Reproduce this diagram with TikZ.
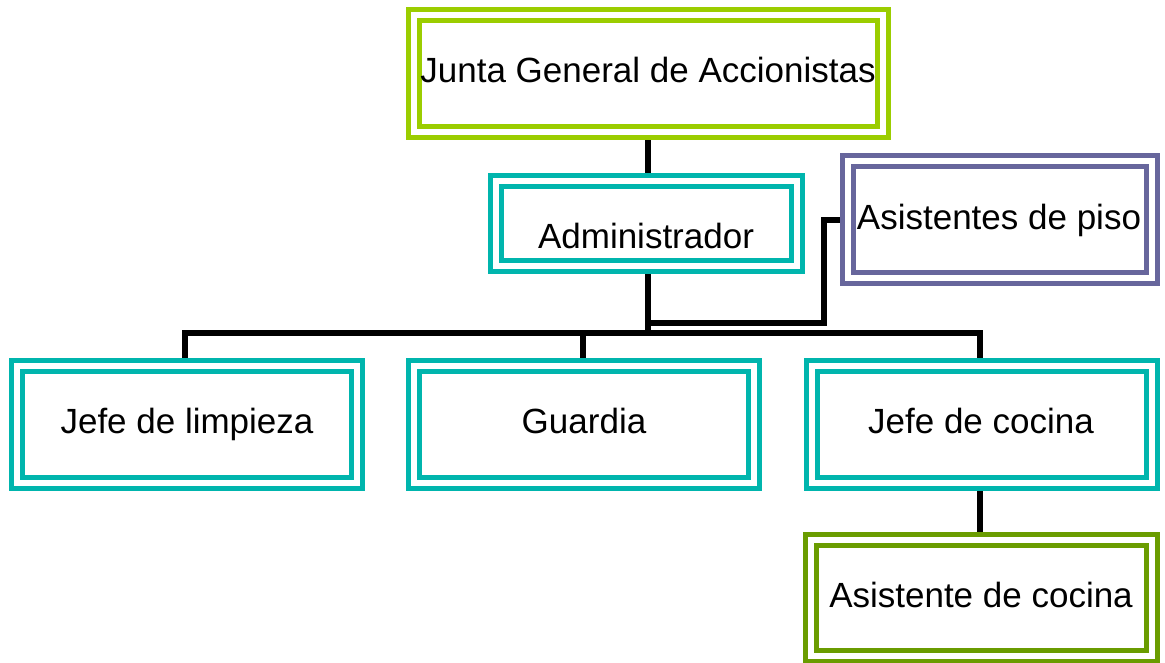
\documentclass[tikz,border=0pt]{standalone}
\usepackage{fontspec}
\setmainfont{Liberation Sans}
\usetikzlibrary{backgrounds}
\definecolor{lime}{RGB}{155,205,0}
\definecolor{teal2}{RGB}{0,181,173}
\definecolor{purp}{RGB}{103,102,156}
\definecolor{dgreen}{RGB}{106,156,0}
\begin{document}
\begin{tikzpicture}[x=1pt,y=-1pt,
  box/.style={draw=#1, double=white, double distance=6pt, line width=5pt, fill=white,
    minimum width=340pt, minimum height=117pt, outer sep=8pt, inner sep=0pt},
  lbl/.style={font=\fontsize{35}{40}\selectfont, text height=25pt, text depth=0pt, inner sep=0pt},
  conn/.style={line width=6pt, black}]
\useasboundingbox (0,0) rectangle (1165,662);
% boxes
\node[box=lime, minimum width=469pt] (junta) at (648.5,73.5) {};
\node[box=teal2, minimum width=301pt, minimum height=85pt] (adm) at (646.5,223.5) {};
\node[box=purp, minimum width=304pt] (asp) at (1000,219.5) {};
\node[box=teal2] (jl) at (187,424.5) {};
\node[box=teal2] (gu) at (584,424.5) {};
\node[box=teal2] (jc) at (981.5,424.5) {};
\node[box=dgreen, minimum width=341pt, minimum height=116pt] (ac) at (981.5,598) {};
% texts
\node[lbl] (t1) at (648,70) {Junta General de Accionistas};
\node[lbl] (t2) at (646,236) {Administrador};
\node[lbl] (t3) at (999,217) {Asistentes de piso};
\node[lbl] (t4) at (187,421) {Jefe de limpieza};
\node[lbl] (t5) at (584,421) {Guardia};
\node[lbl] (t6) at (981,421) {Jefe de cocina};
\node[lbl] (t7) at (981,595) {Asistente de cocina};
% connectors
\coordinate (bar) at (648,333);
\coordinate (side) at (648,323);
\coordinate (barl) at (185,333);
\coordinate (xg) at (583,0);
\coordinate (xc) at (980,0);
\coordinate (xs) at (824,0);
\begin{scope}[on background layer]
\draw[conn] (junta.south -| bar) -- (adm.north -| bar);
\draw[conn] (adm.south -| bar) -- (bar);
\draw[conn] (side) -| (asp.west -| xs) -- (asp.west);
\draw[conn] (jl.north -| barl) -- (barl) -- (bar) -| (jc.north -| xc);
\draw[conn] (gu.north -| xg) -- (bar -| xg);
\draw[conn] (jc.south -| xc) -- (ac.north -| xc);
\end{scope}
\end{tikzpicture}
\end{document}
